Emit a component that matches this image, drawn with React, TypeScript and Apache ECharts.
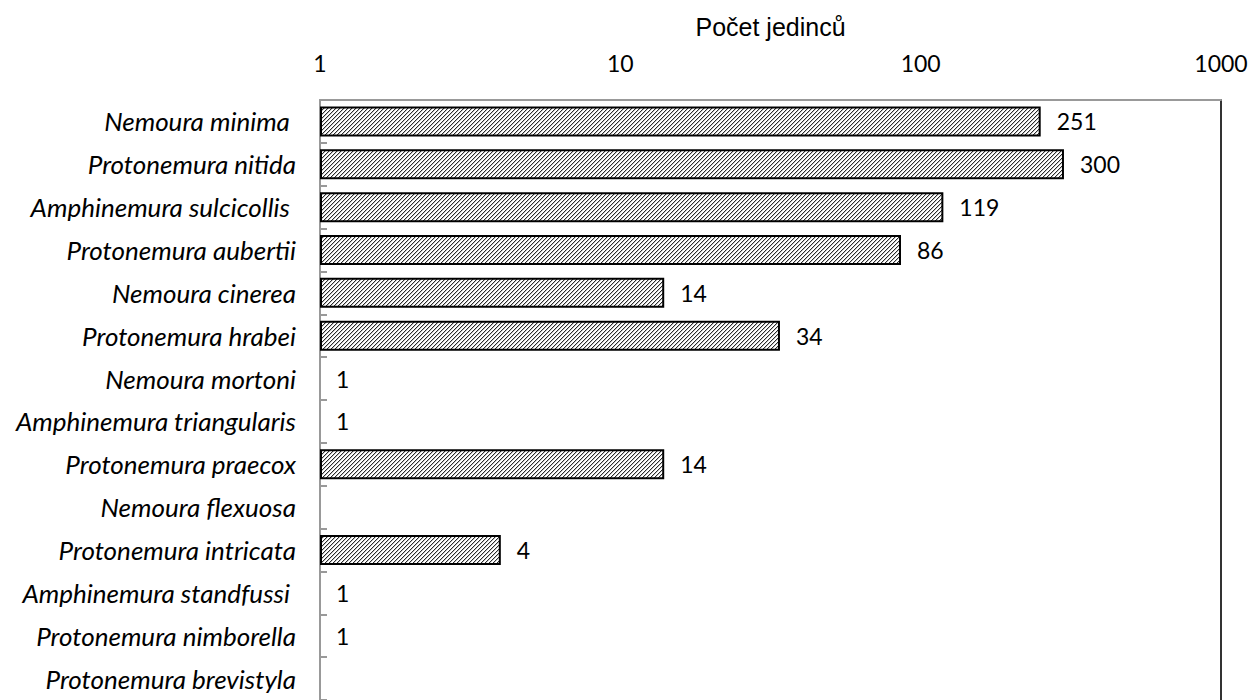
import React, { useEffect, useRef } from "react";
import * as echarts from "echarts";

const categories = [
  "Nemoura minima ",
  "Protonemura nitida",
  "Amphinemura sulcicollis ",
  "Protonemura aubertii",
  "Nemoura cinerea",
  "Protonemura hrabei",
  "Nemoura mortoni",
  "Amphinemura triangularis",
  "Protonemura praecox",
  "Nemoura flexuosa",
  "Protonemura intricata",
  "Amphinemura standfussi ",
  "Protonemura nimborella",
  "Protonemura brevistyla",
];
const counts: (number | null)[] = [251, 300, 119, 86, 14, 34, 1, 1, 14, null, 4, 1, 1, null];
const axisMin = 1;
const axisMax = 1000;
const axisTitle = "Počet jedinců";

function makeHatch(): HTMLCanvasElement {
  const p = 4;
  const c = document.createElement("canvas");
  c.width = p;
  c.height = p;
  const ctx = c.getContext("2d")!;
  ctx.fillStyle = "#ffffff";
  ctx.fillRect(0, 0, p, p);
  for (let i = 0; i < p; i++) {
    ctx.fillStyle = "#2a2a2a";
    ctx.fillRect(i, p - 1 - i, 1, 1);
    ctx.fillStyle = "#c4c4c4";
    ctx.fillRect((i + 1) % p, p - 1 - i, 1, 1);
  }
  return c;
}

export default function App() {
  const ref = useRef<HTMLDivElement>(null);
  useEffect(() => {
    document.body.style.margin = "0";
    const chart = echarts.init(ref.current!, undefined, { renderer: "svg" });
    const hatch = makeHatch();
    const calib = "Lato, 'Open Sans', sans-serif";
    const barData = counts.map((v) =>
      v === axisMin ? { value: v, itemStyle: { borderWidth: 0 } } : { value: v }
    );
    chart.setOption({
      animation: false,
      backgroundColor: "#ffffff",
      grid: { left: 320, top: 100, width: 901, height: 605, containLabel: false },
      xAxis: {
        type: "log",
        logBase: 10,
        min: axisMin,
        max: axisMax,
        position: "top",
        name: axisTitle,
        nameLocation: "middle",
        nameGap: 61,
        nameTextStyle: { fontFamily: "'Liberation Sans', Arial, sans-serif", fontSize: 25, color: "#000" },
        axisLine: { show: true, lineStyle: { color: "#999", width: 2 } },
        axisTick: { show: false },
        splitLine: { show: false },
        minorTick: { show: false },
        axisLabel: {
          fontFamily: calib,
          fontSize: 23,
          color: "#000",
          margin: 26,
          showMinLabel: true,
          showMaxLabel: true,
          formatter: (v: number) => String(v),
        },
      },
      yAxis: [
        {
          type: "category",
          data: categories,
          inverse: true,
          axisLine: { show: true, lineStyle: { color: "#999", width: 2 } },
          axisTick: { show: true, inside: true, length: 7, lineStyle: { color: "#999", width: 2 } },
          axisLabel: { fontFamily: calib, fontStyle: "italic", fontSize: 26, color: "#000", margin: 24 },
          splitLine: { show: false },
        },
        {
          type: "category",
          data: categories,
          inverse: true,
          position: "right",
          axisLine: { show: true, lineStyle: { color: "#333", width: 2 } },
          axisTick: { show: false },
          axisLabel: { show: false },
          splitLine: { show: false },
        },
      ],
      series: [
        {
          type: "bar",
          data: barData,
          yAxisIndex: 0,
          barWidth: 30,
          itemStyle: {
            color: { image: hatch, repeat: "repeat" },
            borderColor: "#000",
            borderWidth: 2,
          },
          label: {
            show: true,
            position: "right",
            distance: 16,
            fontFamily: calib,
            fontSize: 23,
            color: "#000",
            formatter: (p: any) => (p.value == null ? "" : String(p.value)),
          },
        },
      ],
    });
    return () => chart.dispose();
  }, []);
  return <div ref={ref} style={{ width: 1253, height: 700 }} />;
}
